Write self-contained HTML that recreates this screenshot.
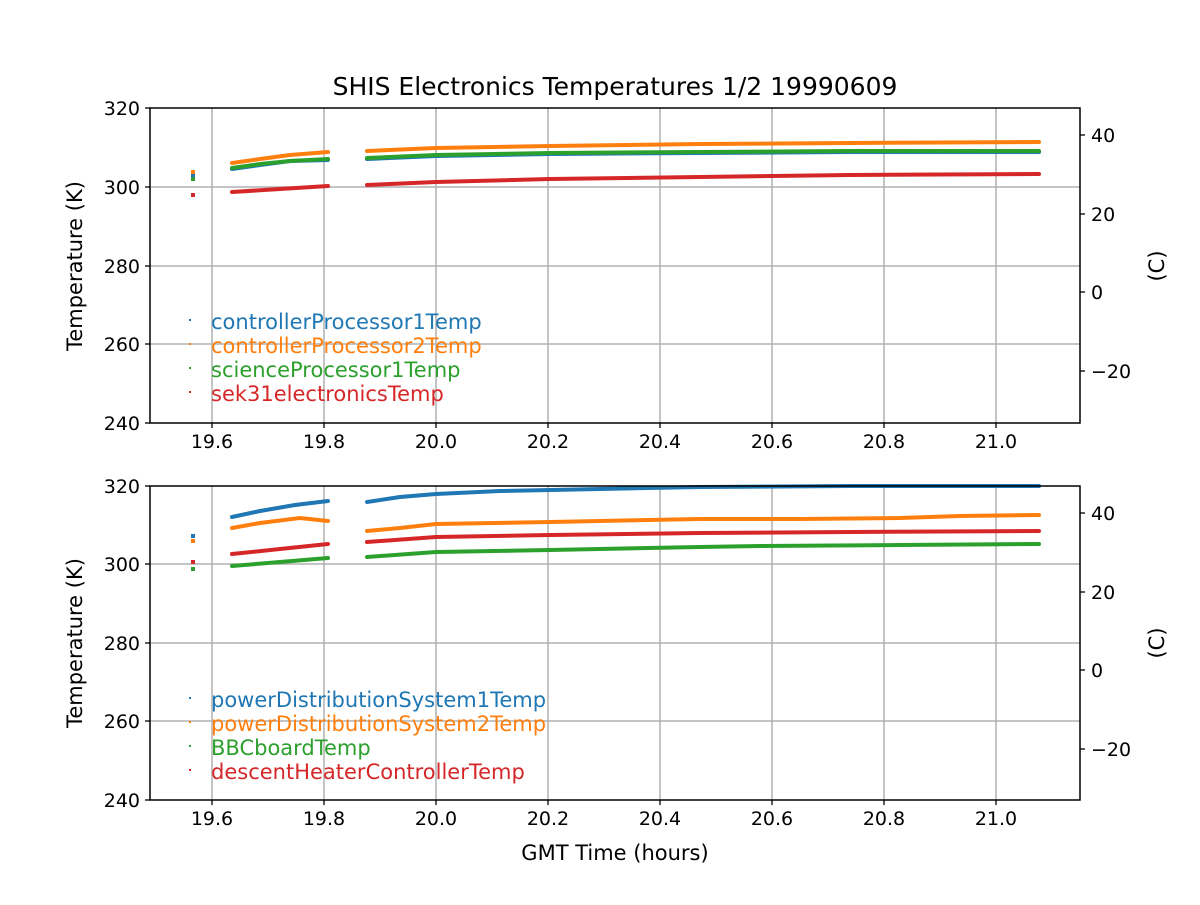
<!DOCTYPE html>
<html><head><meta charset="utf-8"><style>body{margin:0;background:#fff}svg text{font-family:"DejaVu Sans","Liberation Sans",sans-serif;font-size:19px;fill:#000}.L{font-size:21px}</style></head><body>
<svg width="1200" height="900" viewBox="0 0 1200 900" xmlns="http://www.w3.org/2000/svg">
<rect width="1200" height="900" fill="#fff"/>
<text x="615" y="95" text-anchor="middle" style="font-size:25px">SHIS Electronics Temperatures 1/2 19990609</text>
<g stroke="#b0b0b0" stroke-width="1.5">
<line x1="212" y1="108" x2="212" y2="423"/><line x1="324" y1="108" x2="324" y2="423"/><line x1="436" y1="108" x2="436" y2="423"/><line x1="548" y1="108" x2="548" y2="423"/><line x1="660" y1="108" x2="660" y2="423"/><line x1="772" y1="108" x2="772" y2="423"/><line x1="884" y1="108" x2="884" y2="423"/><line x1="996" y1="108" x2="996" y2="423"/>
<line x1="150" y1="187" x2="1080" y2="187"/><line x1="150" y1="266" x2="1080" y2="266"/><line x1="150" y1="344" x2="1080" y2="344"/>
<line x1="212" y1="486" x2="212" y2="800"/><line x1="324" y1="486" x2="324" y2="800"/><line x1="436" y1="486" x2="436" y2="800"/><line x1="548" y1="486" x2="548" y2="800"/><line x1="660" y1="486" x2="660" y2="800"/><line x1="772" y1="486" x2="772" y2="800"/><line x1="884" y1="486" x2="884" y2="800"/><line x1="996" y1="486" x2="996" y2="800"/>
<line x1="150" y1="564" x2="1080" y2="564"/><line x1="150" y1="643" x2="1080" y2="643"/><line x1="150" y1="721" x2="1080" y2="721"/>
</g>
<g fill="none" stroke-width="4" stroke-linecap="round" stroke-linejoin="round">
<polyline stroke="#ff7f0e" points="232,163 260,159 290,155 328,152"/>
<polyline stroke="#ff7f0e" points="367,151 436,148 550,146 700,144 850,143 1039,142"/>
<polyline stroke="#1f77b4" points="232,169 260,165 290,161 328,160"/>
<polyline stroke="#1f77b4" points="367,159 436,156 550,154 700,153 850,152 1039,152"/>
<polyline stroke="#2ca02c" points="232,168 260,164 290,161 328,159"/>
<polyline stroke="#2ca02c" points="367,158 436,155 550,153 700,152 850,151 1039,151"/>
<polyline stroke="#d62728" points="232,192 280,189 328,186"/>
<polyline stroke="#d62728" points="367,185 436,182 550,179 700,177 850,175 1039,174"/>
<polyline stroke="#1f77b4" points="232,517 260,511 295,505 328,501"/>
<polyline stroke="#1f77b4" points="367,502 400,497 436,494 500,491 600,489 700,487 850,486 1039,486"/>
<polyline stroke="#ff7f0e" points="232,528 260,523 300,518 328,521"/>
<polyline stroke="#ff7f0e" points="367,531 400,528 436,524 550,522 700,519 800,519 900,518 960,516 1039,515"/>
<polyline stroke="#d62728" points="232,554 280,549 328,544"/>
<polyline stroke="#d62728" points="367,542 436,537 550,535 700,533 850,532 1039,531"/>
<polyline stroke="#2ca02c" points="232,566 280,562 328,558"/>
<polyline stroke="#2ca02c" points="367,557 436,552 550,550 700,547 760,546 900,545 1039,544"/>
</g>
<g>
<rect x="191" y="173" width="4" height="4" fill="#1f77b4"/><rect x="191" y="170" width="4" height="4" fill="#ff7f0e"/><rect x="191" y="177" width="4" height="4" fill="#2ca02c"/><rect x="191" y="193" width="4" height="4" fill="#d62728"/>
<rect x="191" y="534" width="4" height="4" fill="#1f77b4"/><rect x="191" y="539" width="4" height="4" fill="#ff7f0e"/><rect x="191" y="560" width="4" height="4" fill="#d62728"/><rect x="191" y="567" width="4" height="4" fill="#2ca02c"/>
</g>
<g fill="none" stroke="#000" stroke-width="1.5">
<rect x="150" y="108" width="930" height="315"/><rect x="150" y="486" width="930" height="314"/>
</g>
<g stroke="#000" stroke-width="1.3">
<line x1="145" y1="108" x2="150" y2="108"/><line x1="145" y1="187" x2="150" y2="187"/><line x1="145" y1="266" x2="150" y2="266"/><line x1="145" y1="344" x2="150" y2="344"/><line x1="145" y1="423" x2="150" y2="423"/>
<line x1="1080" y1="135" x2="1085" y2="135"/><line x1="1080" y1="214" x2="1085" y2="214"/><line x1="1080" y1="292" x2="1085" y2="292"/><line x1="1080" y1="371" x2="1085" y2="371"/>
<line x1="145" y1="486" x2="150" y2="486"/><line x1="145" y1="564" x2="150" y2="564"/><line x1="145" y1="643" x2="150" y2="643"/><line x1="145" y1="721" x2="150" y2="721"/><line x1="145" y1="800" x2="150" y2="800"/>
<line x1="1080" y1="513" x2="1085" y2="513"/><line x1="1080" y1="592" x2="1085" y2="592"/><line x1="1080" y1="670" x2="1085" y2="670"/><line x1="1080" y1="749" x2="1085" y2="749"/>
<line x1="212" y1="423" x2="212" y2="428"/><line x1="324" y1="423" x2="324" y2="428"/><line x1="436" y1="423" x2="436" y2="428"/><line x1="548" y1="423" x2="548" y2="428"/><line x1="660" y1="423" x2="660" y2="428"/><line x1="772" y1="423" x2="772" y2="428"/><line x1="884" y1="423" x2="884" y2="428"/><line x1="996" y1="423" x2="996" y2="428"/>
<line x1="212" y1="800" x2="212" y2="805"/><line x1="324" y1="800" x2="324" y2="805"/><line x1="436" y1="800" x2="436" y2="805"/><line x1="548" y1="800" x2="548" y2="805"/><line x1="660" y1="800" x2="660" y2="805"/><line x1="772" y1="800" x2="772" y2="805"/><line x1="884" y1="800" x2="884" y2="805"/><line x1="996" y1="800" x2="996" y2="805"/>
</g>
<g text-anchor="end">
<text x="140" y="115">320</text><text x="140" y="194">300</text><text x="140" y="273">280</text><text x="140" y="351">260</text><text x="140" y="430">240</text>
<text x="140" y="493">320</text><text x="140" y="571">300</text><text x="140" y="650">280</text><text x="140" y="728">260</text><text x="140" y="807">240</text>
</g>
<g>
<text x="1091" y="142">40</text><text x="1091" y="221">20</text><text x="1091" y="299">0</text><text x="1091" y="378">−20</text>
<text x="1091" y="520">40</text><text x="1091" y="599">20</text><text x="1091" y="677">0</text><text x="1091" y="756">−20</text>
</g>
<g text-anchor="middle">
<text x="212" y="448">19.6</text><text x="324" y="448">19.8</text><text x="436" y="448">20.0</text><text x="548" y="448">20.2</text><text x="660" y="448">20.4</text><text x="772" y="448">20.6</text><text x="884" y="448">20.8</text><text x="996" y="448">21.0</text>
<text x="212" y="825">19.6</text><text x="324" y="825">19.8</text><text x="436" y="825">20.0</text><text x="548" y="825">20.2</text><text x="660" y="825">20.4</text><text x="772" y="825">20.6</text><text x="884" y="825">20.8</text><text x="996" y="825">21.0</text>
<text class="L" x="615" y="860">GMT Time (hours)</text>
<text class="L" transform="translate(82,266) rotate(-90)">Temperature (K)</text>
<text class="L" transform="translate(82,643) rotate(-90)">Temperature (K)</text>
<text class="L" transform="translate(1164,266) rotate(-90)">(C)</text>
<text class="L" transform="translate(1164,643) rotate(-90)">(C)</text>
</g>
<g class="L">
<rect x="189" y="319" width="2" height="2" fill="#1f77b4"/><text class="L" x="211" y="329" style="fill:#1f77b4">controllerProcessor1Temp</text>
<rect x="189" y="343" width="2" height="2" fill="#ff7f0e"/><text class="L" x="211" y="353" style="fill:#ff7f0e">controllerProcessor2Temp</text>
<rect x="189" y="367" width="2" height="2" fill="#2ca02c"/><text class="L" x="211" y="377" style="fill:#2ca02c">scienceProcessor1Temp</text>
<rect x="189" y="391" width="2" height="2" fill="#d62728"/><text class="L" x="211" y="401" style="fill:#d62728">sek31electronicsTemp</text>
<rect x="189" y="697" width="2" height="2" fill="#1f77b4"/><text class="L" x="211" y="707" style="fill:#1f77b4">powerDistributionSystem1Temp</text>
<rect x="189" y="721" width="2" height="2" fill="#ff7f0e"/><text class="L" x="211" y="731" style="fill:#ff7f0e">powerDistributionSystem2Temp</text>
<rect x="189" y="745" width="2" height="2" fill="#2ca02c"/><text class="L" x="211" y="755" style="fill:#2ca02c">BBCboardTemp</text>
<rect x="189" y="769" width="2" height="2" fill="#d62728"/><text class="L" x="211" y="779" style="fill:#d62728">descentHeaterControllerTemp</text>
</g>
</svg>
</body></html>
